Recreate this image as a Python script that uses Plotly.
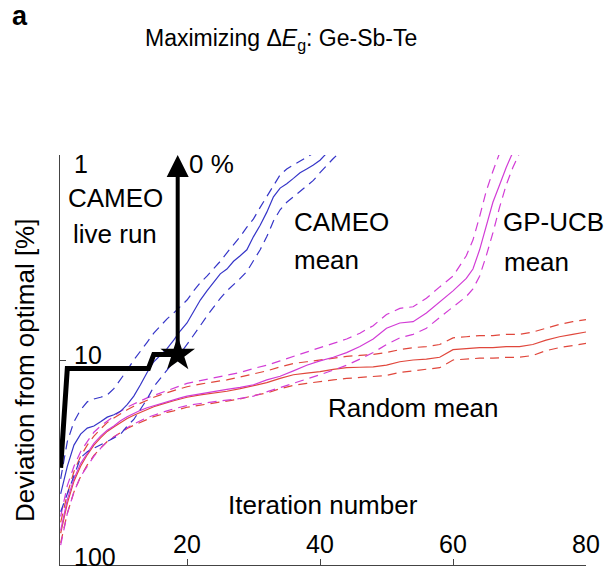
import plotly.graph_objects as go
import math

# ---------------- data ----------------
cameo_x = list(range(1, 42))
cameo_mean = [45, 33, 26, 23, 21.5, 21, 20, 19, 18.5, 17.8, 16.5, 15, 13.2, 11.5, 10.2, 9.5, 8.8, 8, 7.2, 6.6,
              5.8, 5.1, 4.6, 4.2, 3.8, 3.6, 3.3, 3.1, 2.9, 2.5, 2.2, 1.9, 1.6, 1.45, 1.38, 1.3, 1.22, 1.17, 1.12, 1.06, 0.98]
cameo_up_x = list(range(1, 40))
cameo_up = [38, 25, 20, 17.5, 16, 15.5, 15.2, 14.8, 13.8, 12.5, 11.2, 10, 9.0, 8.2, 7.4, 6.8, 6.3, 5.9, 5.5, 5.1,
            4.6, 4.2, 3.9, 3.6, 3.3, 3.0, 2.75, 2.5, 2.25, 2.05, 1.8, 1.6, 1.4, 1.25, 1.17, 1.12, 1.07, 1.03, 0.98]
cameo_lo_x = list(range(1, 44))
cameo_lo = [55, 45, 36, 30, 28, 27, 26, 25, 24, 23, 21, 19.5, 17.5, 15.5, 13.5, 12.3, 11.3, 10.2, 9.3, 8.4,
            7.6, 6.8, 6.1, 5.5, 5.0, 4.6, 4.3, 4.0, 3.7, 3.3, 2.9, 2.5, 2.1, 1.85, 1.7, 1.6, 1.5, 1.42, 1.33, 1.22,
            1.12, 1.04, 0.97]

gp_x = [1, 2, 3, 4, 5, 6, 7, 8, 9, 10, 11, 12, 13, 14, 15, 16, 17, 18, 19, 20, 22, 24, 26, 28, 30, 32, 34, 36, 38,
        40, 42, 44, 46, 48, 50, 52, 54, 56, 58, 60, 62, 63, 64, 65, 66, 67, 68, 69]
gp_mean = [68, 48, 38, 32, 28.5, 25.5, 23.5, 22, 21, 19.8, 18.9, 18.2, 17.6, 17.1, 16.7, 16.3, 16.0, 15.6, 15.3,
           15.0, 14.6, 14.3, 13.9, 13.6, 13.2, 12.5, 12.0, 11.3, 10.6, 10.1, 9.7, 9.2, 8.6, 7.9, 7.0, 6.6, 6.5,
           5.9, 5.2, 4.6, 4.0, 3.6, 2.9, 2.25, 1.7, 1.4, 1.15, 0.97]
gp_up_x = [1, 2, 3, 4, 5, 6, 7, 8, 9, 10, 11, 12, 13, 14, 15, 16, 17, 18, 19, 20, 22, 24, 26, 28, 30, 32, 34, 36,
           38, 40, 42, 44, 46, 48, 50, 52, 54, 56, 58, 60, 62, 63, 64, 65, 66, 67]
gp_up = [58, 41, 33, 28, 25, 22.5, 21, 19.8, 18.8, 17.8, 17.0, 16.4, 15.8, 15.3, 14.9, 14.5, 14.1, 13.7, 13.3,
         13.0, 12.6, 12.2, 11.9, 11.5, 11.0, 10.6, 10.1, 9.6, 9.1, 8.7, 8.3, 7.9, 7.4, 6.8, 6.0, 5.6, 5.5, 5.0,
         4.4, 3.9, 3.1, 2.6, 2.0, 1.5, 1.2, 0.98]
gp_lo_x = [1, 2, 3, 4, 5, 6, 7, 8, 9, 10, 11, 12, 13, 14, 15, 16, 17, 18, 19, 20, 22, 24, 26, 28, 30, 32, 34, 36,
           38, 40, 42, 44, 46, 48, 50, 52, 54, 56, 58, 60, 62, 63, 64, 65, 66, 67, 68, 69, 70]
gp_lo = [80, 56, 44, 37, 33, 29.5, 27, 25, 23.8, 22.5, 21.4, 20.5, 19.7, 19.1, 18.6, 18.1, 17.7, 17.3, 17.0,
         16.7, 16.3, 16.0, 15.7, 15.4, 15.0, 14.3, 13.7, 13.0, 12.4, 11.8, 11.2, 10.6, 9.9, 9.2, 8.4, 7.8, 7.5,
         7.0, 6.2, 5.5, 4.9, 4.5, 3.9, 3.1, 2.4, 1.8, 1.4, 1.15, 0.98]

rand_x = [1, 2, 3, 4, 5, 6, 7, 8, 9, 10, 11, 12, 13, 14, 15, 16, 17, 18, 19, 20, 22, 24, 26, 28, 30, 32, 34, 36,
          38, 40, 42, 44, 46, 48, 50, 52, 54, 56, 58, 60, 62, 64, 66, 68, 70, 72, 74, 76, 78, 80]
rand_mean = [70, 50, 39, 33, 29, 26, 24, 22.3, 21.2, 20.2, 19.3, 18.6, 18.0, 17.4, 16.9, 16.5, 16.1, 15.8, 15.5,
             15.2, 14.8, 14.5, 14.2, 13.8, 13.3, 12.9, 12.3, 11.8, 11.6, 11.4, 11.1, 10.9, 10.85, 10.8, 10.6,
             10.2, 10.0, 9.9, 9.7, 8.9, 8.8, 8.7, 8.7, 8.6, 8.6, 8.4, 8.0, 7.7, 7.5, 7.3]
rand_up = [62, 45, 35, 29.5, 26, 23.5, 21.7, 20.2, 19.2, 18.3, 17.5, 16.8, 16.2, 15.7, 15.2, 14.8, 14.4, 14.1,
           13.8, 13.5, 13.1, 12.8, 12.5, 12.1, 11.7, 11.3, 10.8, 10.4, 10.2, 10.0, 9.8, 9.6, 9.5, 9.4, 9.2, 8.9,
           8.7, 8.6, 8.4, 7.8, 7.7, 7.6, 7.6, 7.5, 7.5, 7.3, 7.0, 6.7, 6.5, 6.35]
rand_lo = [78, 56, 44, 37, 32.5, 29.2, 26.9, 25.0, 23.7, 22.6, 21.6, 20.8, 20.1, 19.5, 18.9, 18.5, 18.0, 17.7,
           17.4, 17.0, 16.6, 16.2, 15.9, 15.5, 14.9, 14.5, 13.8, 13.3, 13.0, 12.8, 12.5, 12.3, 12.2, 12.1, 11.9,
           11.5, 11.3, 11.1, 10.9, 10.0, 9.9, 9.8, 9.8, 9.7, 9.7, 9.5, 9.0, 8.7, 8.5, 8.3]

live_x = [1, 2, 14.2, 15.0, 18.6]
live_y = [33.6, 11.0, 11.0, 9.4, 9.4]
star_x = [18.6]
star_y = [9.4]

x_ticks = [20, 40, 60, 80]
y_ticks = [1, 10, 100]
y_tick_labels = ["1", "10", "100"]

# ---------------- styling ----------------
FONT = "Liberation Sans, Arial, Helvetica, sans-serif"
BLUE = "#3535c8"
MAGENTA = "#d23cd6"
RED = "#e0473c"
DASH = "9px,6px"

L, R, T, B = 60, 586, 155, 565
W, H = 605, 568


def pxx(xp):
    return (xp - L) / (R - L)


def pxy(yp):
    return (B - yp) / (B - T)


fig = go.Figure()


def add_line(x, y, color, dash=None, width=1.2):
    fig.add_trace(go.Scatter(x=x, y=y, mode="lines",
                             line=dict(color=color, width=width, dash=dash),
                             showlegend=False, hoverinfo="skip"))


# Random
add_line(rand_x, rand_up, RED, DASH)
add_line(rand_x, rand_lo, RED, DASH)
add_line(rand_x, rand_mean, RED)
# GP-UCB
add_line(gp_up_x, gp_up, MAGENTA, DASH)
add_line(gp_lo_x, gp_lo, MAGENTA, DASH)
add_line(gp_x, gp_mean, MAGENTA)
# CAMEO
add_line(cameo_up_x, cameo_up, BLUE, DASH)
add_line(cameo_lo_x, cameo_lo, BLUE, DASH)
add_line(cameo_x, cameo_mean, BLUE)
# live run
fig.add_trace(go.Scatter(x=live_x, y=live_y, mode="lines",
                         line=dict(color="black", width=5),
                         showlegend=False, hoverinfo="skip"))
fig.add_trace(go.Scatter(x=star_x, y=star_y, mode="markers",
                         marker=dict(symbol="star", size=26, color="black"),
                         cliponaxis=False, showlegend=False, hoverinfo="skip"))

annotations = []
# arrow to 0 %
annotations.append(dict(x=star_x[0], y=math.log10(y_ticks[0]), xref="x", yref="y",
                        ax=star_x[0], ay=math.log10(star_y[0]), axref="x", ayref="y",
                        text="", showarrow=True, arrowhead=2, arrowsize=1.1, arrowwidth=4,
                        arrowcolor="black", standoff=0, startstandoff=0))

# y tick labels (inside)
y_shift = [-9, 5, 8]
for v, lab, ys in zip(y_ticks, y_tick_labels, y_shift):
    annotations.append(dict(x=0, xref="paper", y=math.log10(v), yref="y", text=lab,
                            showarrow=False, xanchor="left", yanchor="middle",
                            xshift=12, yshift=ys, font=dict(size=25, color="black", family=FONT)))
# x tick labels (inside)
for v in x_ticks:
    annotations.append(dict(x=v, xref="x", y=0, yref="paper", text=str(v),
                            showarrow=False, xanchor="center", yanchor="middle",
                            yshift=21, font=dict(size=25, color="black", family=FONT)))


def text(s, xp, yp, size=26, anchor="left", bold=False, angle=0):
    annotations.append(dict(x=pxx(xp), y=pxy(yp), xref="paper", yref="paper",
                            text=("<b>%s</b>" % s) if bold else s, showarrow=False,
                            xanchor=anchor, yanchor="middle", textangle=angle,
                            font=dict(size=size, color="black", family=FONT)))


text("a", 20, 16, size=27, anchor="center", bold=True)
text("Maximizing Δ<i>E</i><sub>g</sub>: Ge-Sb-Te", 281, 40, size=23, anchor="center")
text("CAMEO", 115, 198, anchor="center")
text("live run", 115, 234, anchor="center")
text("0 %", 187, 164)
text("CAMEO", 292, 222)
text("mean", 292, 260)
text("GP-UCB", 501, 222)
text("mean", 502, 262)
text("Random mean", 326, 408)
text("Iteration number", 226, 505)
text("Deviation from optimal [%]", 25, 371, anchor="center", angle=-90)

fig.update_layout(
    width=W, height=H,
    margin=dict(l=L, r=W - R, t=T, b=H - B, pad=0),
    paper_bgcolor="white", plot_bgcolor="white",
    font=dict(family=FONT, size=25, color="black"),
    showlegend=False,
    annotations=annotations,
    xaxis=dict(range=[0.9, 80], showgrid=False, zeroline=False, showline=True,
               linecolor="#444", linewidth=1, ticks="inside", ticklen=6, tickcolor="#444",
               tickvals=x_ticks, showticklabels=False, mirror=False),
    yaxis=dict(type="log", range=[math.log10(y_ticks[-1]), math.log10(y_ticks[0])],
               showgrid=False, zeroline=False, showline=True,
               linecolor="#444", linewidth=1, ticks="inside", ticklen=6, tickcolor="#444",
               tickvals=y_ticks, showticklabels=False),
)

fig.write_html("out.html", config={"displayModeBar": False},
               post_script="document.body.style.margin='0';document.body.style.overflow='hidden';")
